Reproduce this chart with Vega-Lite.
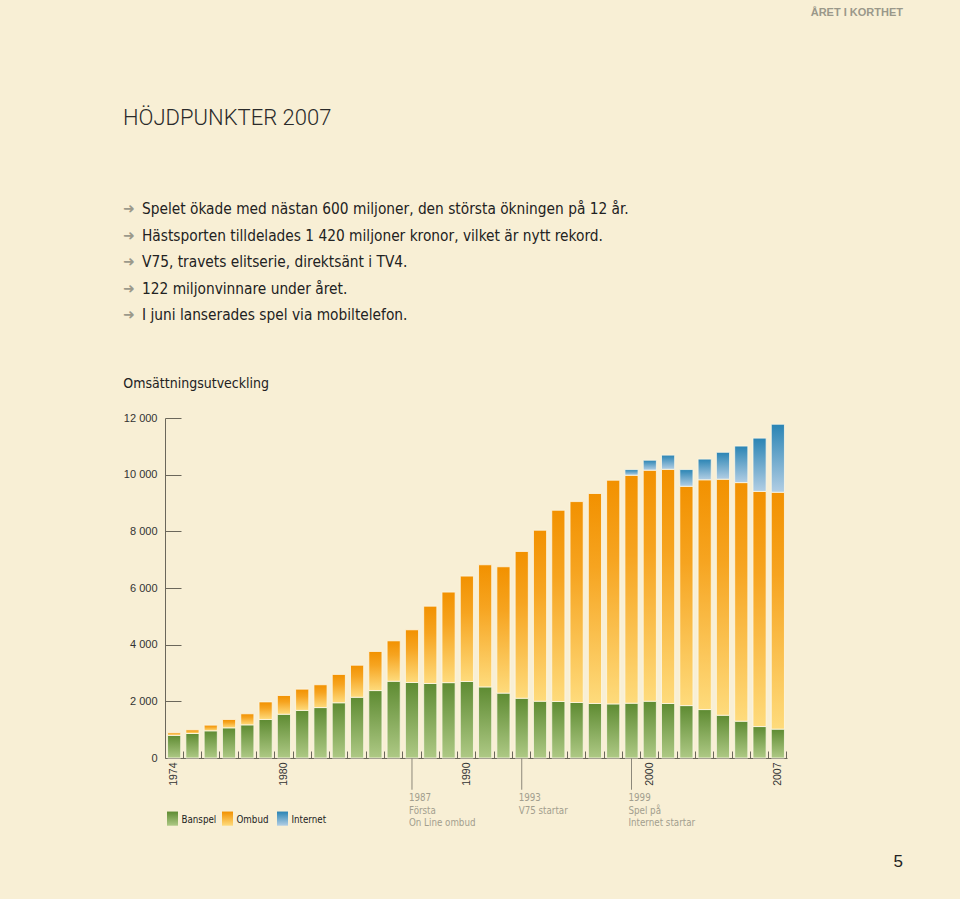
{
  "$schema": "https://vega.github.io/schema/vega-lite/v6.json",
  "background": "#f8efd5",
  "padding": {"left": 123, "top": 7, "right": 57, "bottom": 29},
  "title": {"text": "ÅRET I KORTHET", "anchor": "end", "frame": "bounds", "fontSize": 11, "fontWeight": "bold", "color": "#9a988a", "font": "Liberation Sans", "offset": 89},
  "config": {
    "view": {"stroke": null},
    "font": "Liberation Sans",
    "axis": {"grid": false, "domainColor": "#6b675b", "tickColor": "#6b675b", "domainWidth": 1, "tickWidth": 1, "title": null}
  },
  "spacing": 53,
  "vconcat": [
    {
      "width": 738,
      "height": 106,
      "title": {"text": "HÖJDPUNKTER 2007", "anchor": "start", "frame": "bounds", "fontSize": 22, "fontWeight": 300, "font": "Roboto", "color": "#2a2a2a", "offset": 72},
      "data": {"values": [
        {"rad": 1, "text": "Spelet ökade med nästan 600 miljoner, den största ökningen på 12 år."},
        {"rad": 2, "text": "Hästsporten tilldelades 1 420 miljoner kronor, vilket är nytt rekord."},
        {"rad": 3, "text": "V75, travets elitserie, direktsänt i TV4."},
        {"rad": 4, "text": "122 miljonvinnare under året."},
        {"rad": 5, "text": "I juni lanserades spel via mobiltelefon."}
      ]},
      "encoding": {
        "y": {"field": "rad", "type": "ordinal", "axis": null, "scale": {"type": "point", "padding": 0}},
        "x": {"datum": 0, "type": "quantitative", "scale": {"domain": [0, 1]}, "axis": null}
      },
      "layer": [
        {"mark": {"type": "text", "text": "➜", "align": "left", "baseline": "middle", "dx": -42, "fontSize": 14, "font": "DejaVu Sans", "color": "#9b998b"}},
        {"mark": {"type": "text", "align": "left", "baseline": "middle", "dx": -23, "fontSize": 15.3, "font": "DejaVu Sans Condensed", "color": "#222222"},
         "encoding": {"text": {"field": "text"}}}
      ]
    },
    {
      "spacing": 24,
      "vconcat": [
        {
          "width": 622,
          "height": 340,
          "title": {"text": "Omsättningsutveckling", "anchor": "start", "frame": "bounds", "fontSize": 14, "fontWeight": "normal", "font": "DejaVu Sans Condensed", "color": "#222222", "offset": 21},
          "resolve": {"scale": {"x": "independent"}, "axis": {"x": "independent"}},
          "layer": [
            {
              "layer": [
                {
                  "data": {"values": [
                    {"year": 1974, "series": "Banspel", "value": 800}, {"year": 1974, "series": "Ombud", "value": 90},
                    {"year": 1975, "series": "Banspel", "value": 865}, {"year": 1975, "series": "Ombud", "value": 130},
                    {"year": 1976, "series": "Banspel", "value": 960}, {"year": 1976, "series": "Ombud", "value": 200},
                    {"year": 1977, "series": "Banspel", "value": 1065}, {"year": 1977, "series": "Ombud", "value": 295},
                    {"year": 1978, "series": "Banspel", "value": 1170}, {"year": 1978, "series": "Ombud", "value": 390},
                    {"year": 1979, "series": "Banspel", "value": 1360}, {"year": 1979, "series": "Ombud", "value": 620},
                    {"year": 1980, "series": "Banspel", "value": 1545}, {"year": 1980, "series": "Ombud", "value": 660},
                    {"year": 1981, "series": "Banspel", "value": 1680}, {"year": 1981, "series": "Ombud", "value": 750},
                    {"year": 1982, "series": "Banspel", "value": 1780}, {"year": 1982, "series": "Ombud", "value": 805},
                    {"year": 1983, "series": "Banspel", "value": 1950}, {"year": 1983, "series": "Ombud", "value": 1000},
                    {"year": 1984, "series": "Banspel", "value": 2145}, {"year": 1984, "series": "Ombud", "value": 1130},
                    {"year": 1985, "series": "Banspel", "value": 2380}, {"year": 1985, "series": "Ombud", "value": 1380},
                    {"year": 1986, "series": "Banspel", "value": 2710}, {"year": 1986, "series": "Ombud", "value": 1425},
                    {"year": 1987, "series": "Banspel", "value": 2665}, {"year": 1987, "series": "Ombud", "value": 1860},
                    {"year": 1988, "series": "Banspel", "value": 2630}, {"year": 1988, "series": "Ombud", "value": 2730},
                    {"year": 1989, "series": "Banspel", "value": 2660}, {"year": 1989, "series": "Ombud", "value": 3195},
                    {"year": 1990, "series": "Banspel", "value": 2700}, {"year": 1990, "series": "Ombud", "value": 3720},
                    {"year": 1991, "series": "Banspel", "value": 2510}, {"year": 1991, "series": "Ombud", "value": 4310},
                    {"year": 1992, "series": "Banspel", "value": 2290}, {"year": 1992, "series": "Ombud", "value": 4460},
                    {"year": 1993, "series": "Banspel", "value": 2110}, {"year": 1993, "series": "Ombud", "value": 5180},
                    {"year": 1994, "series": "Banspel", "value": 2005}, {"year": 1994, "series": "Ombud", "value": 6035},
                    {"year": 1995, "series": "Banspel", "value": 1995}, {"year": 1995, "series": "Ombud", "value": 6750},
                    {"year": 1996, "series": "Banspel", "value": 1960}, {"year": 1996, "series": "Ombud", "value": 7090},
                    {"year": 1997, "series": "Banspel", "value": 1925}, {"year": 1997, "series": "Ombud", "value": 7410},
                    {"year": 1998, "series": "Banspel", "value": 1910}, {"year": 1998, "series": "Ombud", "value": 7895},
                    {"year": 1999, "series": "Banspel", "value": 1935}, {"year": 1999, "series": "Ombud", "value": 8045}, {"year": 1999, "series": "Internet", "value": 200},
                    {"year": 2000, "series": "Banspel", "value": 2005}, {"year": 2000, "series": "Ombud", "value": 8155}, {"year": 2000, "series": "Internet", "value": 350},
                    {"year": 2001, "series": "Banspel", "value": 1925}, {"year": 2001, "series": "Ombud", "value": 8265}, {"year": 2001, "series": "Internet", "value": 500},
                    {"year": 2002, "series": "Banspel", "value": 1850}, {"year": 2002, "series": "Ombud", "value": 7740}, {"year": 2002, "series": "Internet", "value": 590},
                    {"year": 2003, "series": "Banspel", "value": 1710}, {"year": 2003, "series": "Ombud", "value": 8110}, {"year": 2003, "series": "Internet", "value": 730},
                    {"year": 2004, "series": "Banspel", "value": 1510}, {"year": 2004, "series": "Ombud", "value": 8330}, {"year": 2004, "series": "Internet", "value": 950},
                    {"year": 2005, "series": "Banspel", "value": 1300}, {"year": 2005, "series": "Ombud", "value": 8420}, {"year": 2005, "series": "Internet", "value": 1290},
                    {"year": 2006, "series": "Banspel", "value": 1110}, {"year": 2006, "series": "Ombud", "value": 8300}, {"year": 2006, "series": "Internet", "value": 1880},
                    {"year": 2007, "series": "Banspel", "value": 1020}, {"year": 2007, "series": "Ombud", "value": 8360}, {"year": 2007, "series": "Internet", "value": 2400}
                  ]},
                  "mark": {"type": "bar", "stroke": "#fdf7e6", "strokeWidth": 0.8},
                  "encoding": {
                    "x": {"field": "year", "type": "ordinal", "scale": {"paddingInner": 0.28, "paddingOuter": 0.14},
                          "axis": {"labelAngle": -90, "labelExpr": "indexof(['1974','1980','1990','2000','2007'], datum.label) >= 0 ? datum.label : ''",
                                   "bandPosition": 1.19, "tickSize": -7, "labelPadding": 11, "labelFontSize": 10.5, "labelColor": "#333333", "labelOverlap": false}},
                    "y": {"field": "value", "type": "quantitative", "stack": "zero", "scale": {"domain": [0, 12000]},
                          "axis": {"values": [0, 2000, 4000, 6000, 8000, 10000, 12000], "labelExpr": "replace(format(datum.value, ','), ',', ' ')",
                                   "tickSize": -16, "labelPadding": 24, "labelFontSize": 11, "labelColor": "#333333"}},
                    "detail": {"field": "series"},
                    "order": {"field": "year", "type": "quantitative"},
                    "fill": {
                      "condition": [
                        {"test": "datum.series === 'Banspel'", "value": {"gradient": "linear", "x1": 0, "y1": 0, "x2": 0, "y2": 1, "stops": [{"offset": 0, "color": "#5e8b32"}, {"offset": 1, "color": "#aec985"}]}},
                        {"test": "datum.series === 'Ombud'", "value": {"gradient": "linear", "x1": 0, "y1": 0, "x2": 0, "y2": 1, "stops": [{"offset": 0, "color": "#f29100"}, {"offset": 0.35, "color": "#f6a420"}, {"offset": 1, "color": "#fedb7c"}]}}
                      ],
                      "value": {"gradient": "linear", "x1": 0, "y1": 0, "x2": 0, "y2": 1, "stops": [{"offset": 0, "color": "#2a84b4"}, {"offset": 1, "color": "#b2cee4"}]}
                    }
                  }
                },
                {
                  "data": {"values": [
                    {"year": 1987, "lines": ["1987", "Första", "On Line ombud"]},
                    {"year": 1993, "lines": ["1993", "V75 startar"]},
                    {"year": 1999, "lines": ["1999", "Spel på", "Internet startar"]}
                  ]},
                  "layer": [
                    {"mark": {"type": "rule", "color": "#8c887a", "strokeWidth": 1},
                     "encoding": {"x": {"field": "year", "type": "ordinal"}, "y": {"datum": 0, "type": "quantitative"}, "y2": {"datum": -1120}}},
                    {"mark": {"type": "text", "align": "left", "baseline": "top", "dx": -3, "fontSize": 9.7, "lineHeight": 12.5, "font": "DejaVu Sans Condensed", "color": "#a29e8e"},
                     "encoding": {"x": {"field": "year", "type": "ordinal"}, "y": {"datum": -1250, "type": "quantitative"}, "text": {"field": "lines"}}}
                  ]
                }
              ]
            },
            {
              "data": {"values": [{"series": "Banspel"}, {"series": "Ombud"}, {"series": "Internet"}]},
              "encoding": {
                "x": {"field": "series", "type": "nominal", "sort": null, "axis": null,
                      "scale": {"type": "band", "domain": ["Banspel", "Ombud", "Internet"], "range": [2, 123], "paddingInner": 0.8, "paddingOuter": 0}}
              },
              "layer": [
                {"mark": {"type": "bar"},
                 "encoding": {
                   "y": {"datum": -1890, "type": "quantitative"}, "y2": {"datum": -2390},
                   "fill": {
                     "condition": [
                       {"test": "datum.series === 'Banspel'", "value": {"gradient": "linear", "x1": 0, "y1": 0, "x2": 0, "y2": 1, "stops": [{"offset": 0, "color": "#5e8b32"}, {"offset": 1, "color": "#aec985"}]}},
                       {"test": "datum.series === 'Ombud'", "value": {"gradient": "linear", "x1": 0, "y1": 0, "x2": 0, "y2": 1, "stops": [{"offset": 0, "color": "#f29100"}, {"offset": 1, "color": "#fedb7c"}]}}
                     ],
                     "value": {"gradient": "linear", "x1": 0, "y1": 0, "x2": 0, "y2": 1, "stops": [{"offset": 0, "color": "#2a84b4"}, {"offset": 1, "color": "#b2cee4"}]}
                   }
                 }},
                {"mark": {"type": "text", "align": "left", "baseline": "middle", "dx": 9, "fontSize": 9.7, "font": "DejaVu Sans Condensed", "color": "#222222"},
                 "encoding": {"y": {"datum": -2200, "type": "quantitative"}, "text": {"field": "series"}}}
              ]
            }
          ]
        },
        {
          "width": 738,
          "height": 16,
          "data": {"values": [{"sida": "5"}]},
          "mark": {"type": "text", "align": "right", "baseline": "middle", "fontSize": 17, "color": "#222222"},
          "encoding": {"text": {"field": "sida"}, "x": {"datum": 1, "type": "quantitative", "scale": {"domain": [0, 1]}, "axis": null}}
        }
      ]
    }
  ]
}
